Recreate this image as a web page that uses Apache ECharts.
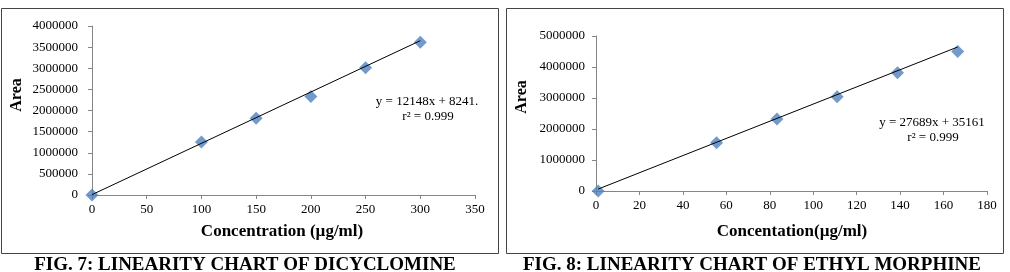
<!DOCTYPE html>
<html>
<head>
<meta charset="utf-8">
<script src="https://cdn.jsdelivr.net/npm/echarts@6/dist/echarts.min.js"></script>
<style>
  html, body { margin: 0; padding: 0; background: #fff; }
  #chart { width: 1010px; height: 272px; }
</style>
</head>
<body>
<div id="chart"></div>
<script>
// FIG. 7 – dicyclomine
const dicConc = [0, 100, 150, 200, 250, 300]
const dicArea = [0, 1255000, 1815000, 2330000, 3010000, 3615000]
const dicTrendX = [0, 300]
const dicTrendY = [8241, 3652641]
const dicYTicks = [0, 500000, 1000000, 1500000, 2000000, 2500000, 3000000, 3500000, 4000000]
const dicXTicks = [0, 50, 100, 150, 200, 250, 300, 350]

// FIG. 8 – ethyl morphine
const ethConc = [1, 55.5, 83.3, 111, 138.8, 166.5]
const ethArea = [0, 1560000, 2320000, 3040000, 3815000, 4500000]
const ethTrendX = [1, 166.5]
const ethTrendY = [62850, 4645330]
const ethYTicks = [0, 1000000, 2000000, 3000000, 4000000, 5000000]
const ethXTicks = [0, 20, 40, 60, 80, 100, 120, 140, 160, 180]

const serif = '"Liberation Serif", "DejaVu Serif", serif'
const axisGray = '#868686'
const pointBlue = '#4f81bd'

const chart = echarts.init(document.getElementById('chart'))

function xAxisOf(gridIndex, ticks) {
  return {
    gridIndex, type: 'value',
    min: ticks[0], max: ticks[ticks.length - 1], interval: ticks[1] - ticks[0],
    axisLine: { lineStyle: { color: axisGray } },
    axisTick: { show: true, length: 4, lineStyle: { color: axisGray } },
    axisLabel: { color: '#000', fontFamily: serif, fontSize: 13, margin: 8, formatter: v => String(v) },
    splitLine: { show: false },
  }
}
function yAxisOf(gridIndex, ticks, margin) {
  return {
    gridIndex, type: 'value',
    min: ticks[0], max: ticks[ticks.length - 1], interval: ticks[1] - ticks[0],
    axisLine: { show: true, lineStyle: { color: axisGray } },
    axisTick: { show: true, length: 4, lineStyle: { color: axisGray } },
    axisLabel: { color: '#000', fontFamily: serif, fontSize: 13, margin, formatter: v => String(v) },
    splitLine: { show: false },
  }
}
function zip(xs, ys) { return xs.map((x, i) => [x, ys[i]]) }

function text(x, y, str, size, bold, extra) {
  return Object.assign({
    type: 'text', x, y,
    style: {
      text: str, fill: '#000', font: (bold ? 'bold ' : '') + size + 'px ' + serif,
      align: 'center', verticalAlign: 'middle',
    },
  }, extra || {})
}

chart.setOption({
  animation: false,
  grid: [
    { left: 92, top: 26, width: 383, height: 169 },
    { left: 596, top: 36, width: 391, height: 155 },
  ],
  xAxis: [xAxisOf(0, dicXTicks), xAxisOf(1, ethXTicks)],
  yAxis: [yAxisOf(0, dicYTicks, 14), yAxisOf(1, ethYTicks, 11)],
  series: [
    { type: 'line', xAxisIndex: 0, yAxisIndex: 0, data: zip(dicTrendX, dicTrendY), symbol: 'none',
      lineStyle: { color: '#000', width: 1 }, z: 3 },
    { type: 'scatter', xAxisIndex: 0, yAxisIndex: 0, data: zip(dicConc, dicArea), symbol: 'diamond',
      symbolSize: 13, itemStyle: { color: pointBlue }, z: 2 },
    { type: 'line', xAxisIndex: 1, yAxisIndex: 1, data: zip(ethTrendX, ethTrendY), symbol: 'none',
      lineStyle: { color: '#000', width: 1 }, z: 3 },
    { type: 'scatter', xAxisIndex: 1, yAxisIndex: 1, data: zip(ethConc, ethArea), symbol: 'diamond',
      symbolSize: 13, itemStyle: { color: pointBlue }, z: 2 },
  ],
  graphic: [
    { type: 'rect', shape: { x: 1.5, y: 8.5, width: 497, height: 245 },
      style: { fill: 'none', stroke: '#444', lineWidth: 1 } },
    { type: 'rect', shape: { x: 506.5, y: 8.5, width: 497, height: 245 },
      style: { fill: 'none', stroke: '#444', lineWidth: 1 } },
    text(282, 232, 'Concentration (\u00b5g/ml)', 17, true),
    text(17, 95, 'Area', 16, true, { rotation: Math.PI / 2 }),
    text(427, 102, 'y = 12148x + 8241.', 13, false),
    text(428, 117, 'r\u00b2 = 0.999', 13, false),
    text(792, 232, 'Concentation(\u00b5g/ml)', 17, true),
    text(522, 97, 'Area', 16, true, { rotation: Math.PI / 2 }),
    text(932, 123, 'y = 27689x + 35161', 13, false),
    text(933, 138, 'r\u00b2 = 0.999', 13, false),
    text(245, 265, 'FIG. 7: LINEARITY CHART OF DICYCLOMINE', 19, true),
    text(752, 265, 'FIG. 8: LINEARITY CHART OF ETHYL MORPHINE', 19, true),
  ],
})
</script>
</body>
</html>
